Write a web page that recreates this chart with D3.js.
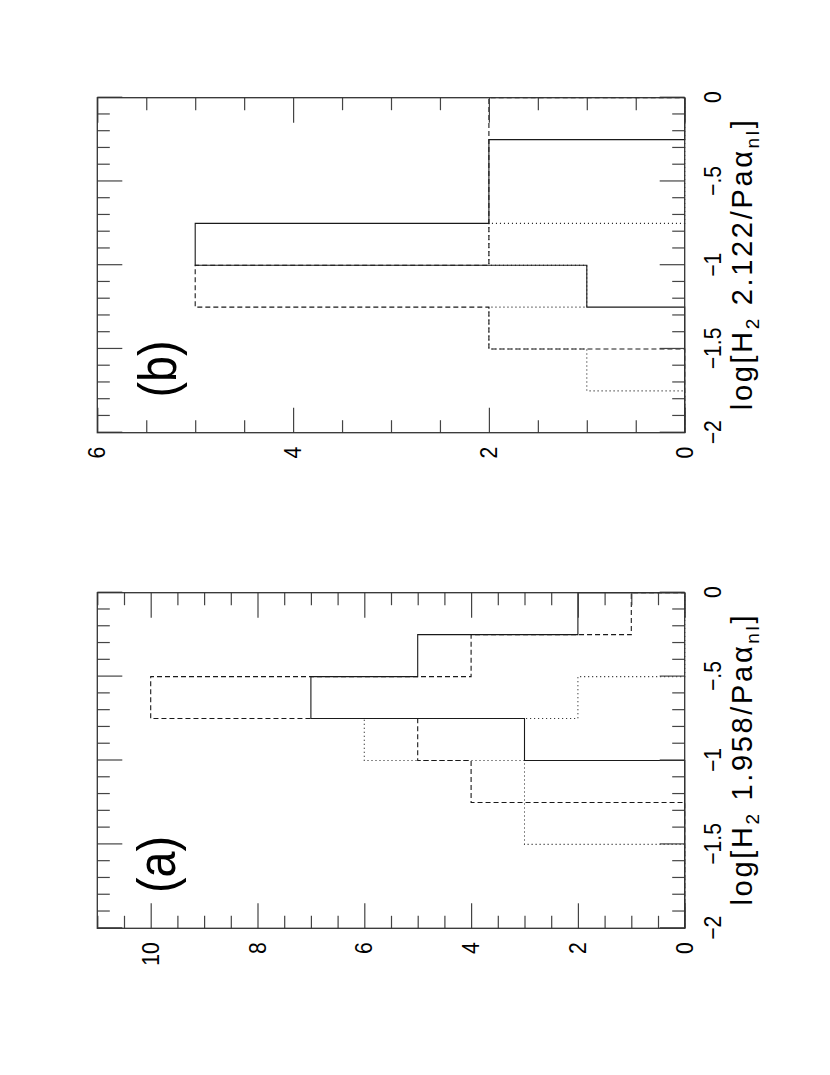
<!DOCTYPE html>
<html>
<head>
<meta charset="utf-8">
<script src="https://cdn.jsdelivr.net/npm/d3@7"></script>
<style>
  body { margin: 0; background: #fff; }
  text { font-family: "Liberation Sans", Arial, sans-serif; fill: #000; }
</style>
</head>
<body>
<div id="chart-area"></div>
<script>
// histogram bins along log[H2/Pa alpha], from -2 to 0
const binEdges = [-2, -1.75, -1.5, -1.25, -1, -0.75, -0.5, -0.25, 0]

// panel (a): H2 1.958
const aSolid  = [0, 0, 0, 0, 3, 7, 5, 2]
const aDashed = [0, 0, 0, 4, 5, 10, 4, 1]
const aDotted = [0, 0, 3, 3, 6, 2, 0, 0]

// panel (b): H2 2.122
const bSolid  = [0, 0, 0, 1, 5, 2, 2, 0]
const bDashed = [0, 0, 2, 5, 2, 2, 2, 2]
const bDotted = [0, 1, 2, 1, 2, 0, 0, 0]

const aCountTicks = [0, 2, 4, 6, 8, 10]
const bCountTicks = [0, 2, 4, 6]
const logTicks = [-2, -1.5, -1, -0.5, 0]
const logTickLabels = ['\u22122', '\u22121.5', '\u22121', '\u2212.5', '0']

const width = 830
const height = 1075
const squeeze = 0.88   // glyphs look a bit narrow in the original

const svg = d3.select('#chart-area').append('svg')
  .attr('width', width)
  .attr('height', height)

// the whole figure is a landscape page turned on its side
const page = svg.append('g')
  .attr('transform', `translate(0,${height}) rotate(-90)`)

const styles = {
  solid: null,
  dashed: '5,3',
  dotted: '1,3'
}

function drawPanel(opts) {
  const g = page.append('g')

  const x = d3.scaleLinear().domain([-2, 0]).range([opts.left, opts.right])
  const y = d3.scaleLinear().domain([0, opts.countMax]).range([opts.bottom, opts.top])

  const line = d3.line()
    .x(d => x(d[0]))
    .y(d => y(d[1]))
    .curve(d3.curveStepAfter)

  opts.series.forEach(s => {
    const pts = [[binEdges[0], 0]]
    s.values.forEach((v, i) => pts.push([binEdges[i], v]))
    pts.push([binEdges[binEdges.length - 1], s.values[s.values.length - 1]])
    pts.push([binEdges[binEdges.length - 1], 0])
    g.append('path')
      .attr('d', line(pts))
      .attr('fill', 'none')
      .attr('stroke', '#1a1a1a')
      .attr('stroke-width', 1.1)
      .attr('stroke-dasharray', styles[s.style])
  })

  const logMinor = d3.range(-20, 1).map(d => d / 10).filter(d => Math.abs(d * 2 - Math.round(d * 2)) > 1e-6)
  const countMinor = d3.range(0, opts.countMax * 2 + 1).map(d => d / 2).filter(d => d % 2 !== 0)

  const tickStyle = sel => {
    sel.select('.domain').remove()
    sel.selectAll('line').attr('stroke', '#444').attr('stroke-width', 1.2)
  }

  // log axis, labelled side
  g.append('g')
    .attr('transform', `translate(0,${opts.bottom})`)
    .call(d3.axisBottom(x).tickValues(logTicks).tickSize(-25).tickPadding(19.5)
      .tickFormat((d, i) => logTickLabels[i]))
    .call(tickStyle)
    .call(a => a.selectAll('text')
      .attr('font-size', 24)
      .attr('transform', `scale(${squeeze},1)`))
  g.append('g')
    .attr('transform', `translate(0,${opts.bottom})`)
    .call(d3.axisBottom(x).tickValues(logMinor).tickSize(-12.5).tickFormat(''))
    .call(tickStyle)

  // log axis, mirrored
  g.append('g')
    .attr('transform', `translate(0,${opts.top})`)
    .call(d3.axisTop(x).tickValues(logTicks).tickSize(-25).tickFormat(''))
    .call(tickStyle)
  g.append('g')
    .attr('transform', `translate(0,${opts.top})`)
    .call(d3.axisTop(x).tickValues(logMinor).tickSize(-12.5).tickFormat(''))
    .call(tickStyle)

  // count axis, labelled side
  g.append('g')
    .attr('transform', `translate(${opts.left},0)`)
    .call(d3.axisLeft(y).tickValues(opts.countTicks).tickSize(-25).tickPadding(14 / squeeze)
      .tickFormat(d3.format('d')))
    .call(tickStyle)
    .call(a => a.selectAll('text')
      .attr('font-size', 24)
      .attr('transform', `scale(${squeeze},1)`))
  g.append('g')
    .attr('transform', `translate(${opts.left},0)`)
    .call(d3.axisLeft(y).tickValues(countMinor).tickSize(-12.5).tickFormat(''))
    .call(tickStyle)

  // count axis, mirrored
  g.append('g')
    .attr('transform', `translate(${opts.right},0)`)
    .call(d3.axisRight(y).tickValues(opts.countTicks).tickSize(-25).tickFormat(''))
    .call(tickStyle)
  g.append('g')
    .attr('transform', `translate(${opts.right},0)`)
    .call(d3.axisRight(y).tickValues(countMinor).tickSize(-12.5).tickFormat(''))
    .call(tickStyle)

  // frame
  g.append('rect')
    .attr('x', opts.left)
    .attr('y', opts.top)
    .attr('width', opts.right - opts.left)
    .attr('height', opts.bottom - opts.top)
    .attr('fill', 'none')
    .attr('stroke', '#333')
    .attr('stroke-width', 1.3)

  // panel tag
  g.append('g')
    .attr('transform', `translate(${x(-1.62)},${y(opts.tagCount)}) scale(${squeeze},1)`)
    .append('text')
    .attr('text-anchor', 'middle')
    .attr('dy', '0.26em')
    .attr('font-size', 53)
    .text(opts.tag)

  // axis title
  const title = g.append('text')
    .attr('x', (opts.left + opts.right) / 2 - 145)
    .attr('y', opts.bottom + 67)
    .attr('textLength', 290)
    .attr('lengthAdjust', 'spacing')
    .attr('font-size', 29)
  title.append('tspan').text('log[H')
  title.append('tspan').attr('font-size', 19).attr('dy', 7).text('2')
  title.append('tspan').attr('dy', -7).text(' ' + opts.line + '/Pa\u03b1')
  title.append('tspan').attr('font-size', 19).attr('dy', 7).text('nl')
  title.append('tspan').attr('dy', -7).text(']')
}

drawPanel({
  left: 146.7, right: 482.3, top: 97.3, bottom: 684.7,
  countMax: 11, countTicks: aCountTicks,
  tag: '(a)', tagCount: 9.8, line: '1.958',
  series: [
    {values: aSolid, style: 'solid'},
    {values: aDashed, style: 'dashed'},
    {values: aDotted, style: 'dotted'}
  ]
})

drawPanel({
  left: 642.3, right: 977.3, top: 97.3, bottom: 684.7,
  countMax: 6, countTicks: bCountTicks,
  tag: '(b)', tagCount: 5.34, line: '2.122',
  series: [
    {values: bSolid, style: 'solid'},
    {values: bDashed, style: 'dashed'},
    {values: bDotted, style: 'dotted'}
  ]
})
</script>
</body>
</html>
